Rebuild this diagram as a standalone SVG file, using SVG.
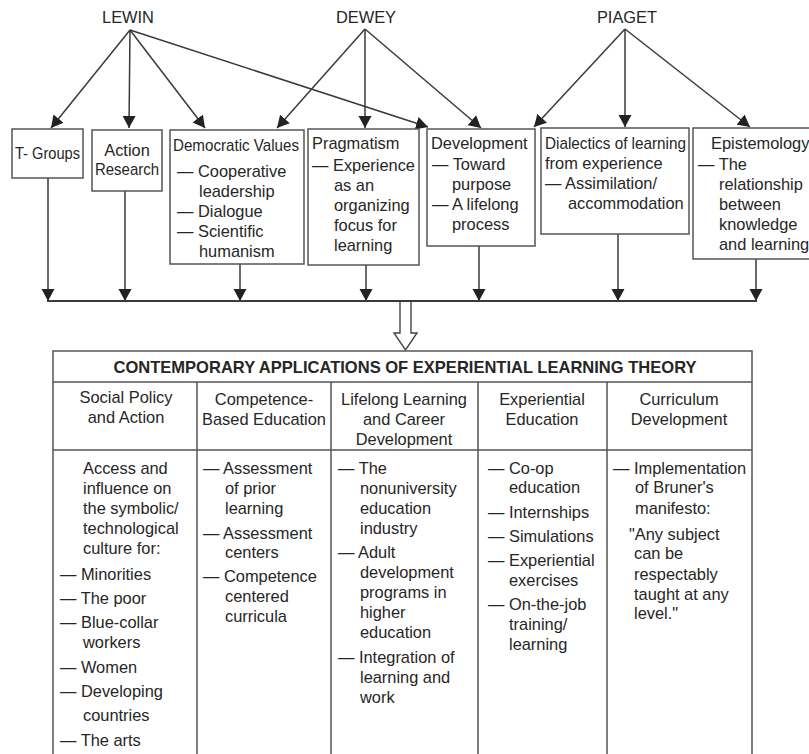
<svg xmlns="http://www.w3.org/2000/svg" width="809" height="754" viewBox="0 0 809 754">
<defs>
<marker id="ah" markerUnits="userSpaceOnUse" markerWidth="14" markerHeight="14" refX="12" refY="7" orient="auto" viewBox="0 0 14 14">
<path d="M0,0.5 L12,7 L0,13.5 z" fill="#222"/>
</marker>
<style>
text{font-family:"Liberation Sans",Arial,Helvetica,sans-serif;font-size:16.4px;fill:#262626}
.c{text-anchor:middle}
.b{font-weight:bold}
.box{fill:#fff;stroke:#555;stroke-width:1.5}
.ln{stroke:#3a3a3a;stroke-width:1.5;fill:none}
.ar{stroke:#3a3a3a;stroke-width:1.5;fill:none;marker-end:url(#ah)}
.t{fill:none;stroke:#555;stroke-width:1.5}
</style>
</defs>
<rect width="809" height="754" fill="#fff"/>

<g id="lewin"><text class="c" x="128" y="23">LEWIN</text></g>
<g id="dewey"><text class="c" x="366" y="23">DEWEY</text></g>
<g id="piaget"><text class="c" x="627" y="23">PIAGET</text></g>

<g id="connectors">
<line class="ar" x1="130" y1="30" x2="51" y2="128"/>
<line class="ar" x1="130" y1="30" x2="129" y2="128"/>
<line class="ar" x1="130" y1="30" x2="205" y2="128"/>
<line class="ar" x1="130" y1="30" x2="428" y2="127"/>
<line class="ar" x1="365" y1="29" x2="277" y2="128"/>
<line class="ar" x1="365" y1="29" x2="365" y2="128"/>
<line class="ar" x1="365" y1="29" x2="481" y2="128"/>
<line class="ar" x1="625" y1="29" x2="534" y2="127"/>
<line class="ar" x1="625" y1="29" x2="625" y2="127"/>
<line class="ar" x1="625" y1="29" x2="750" y2="127"/>
<line class="ar" x1="48" y1="178" x2="48" y2="301"/>
<line class="ar" x1="125" y1="191" x2="125" y2="301"/>
<line class="ar" x1="240" y1="264" x2="240" y2="301"/>
<line class="ar" x1="366" y1="265" x2="366" y2="301"/>
<line class="ar" x1="479" y1="246" x2="479" y2="301"/>
<line class="ar" x1="618" y1="234" x2="618" y2="301"/>
<line class="ar" x1="756" y1="259" x2="756" y2="301"/>
<line x1="47" y1="301" x2="757" y2="301" stroke="#3a3a3a" stroke-width="2"/>
<path d="M400,302 V333 H394 L405.5,350 L417,333 H411 V302" fill="#fff" stroke="#444" stroke-width="1.4"/>
</g>

<g id="tgroups">
<rect class="box" x="12" y="129" width="71" height="49"/>
<text class="c" x="47.5" y="159" font-size="15.5" textLength="65" lengthAdjust="spacingAndGlyphs">T- Groups</text>
</g>
<g id="action-research">
<rect class="box" x="92" y="130" width="70" height="61"/>
<text class="c" x="127" y="156" font-size="15.2">Action</text>
<text class="c" x="127" y="175" font-size="15.2" textLength="64" lengthAdjust="spacingAndGlyphs">Research</text>
</g>
<g id="democratic-values">
<rect class="box" x="170" y="130" width="134" height="134"/>
<text x="173" y="151" textLength="126" lengthAdjust="spacingAndGlyphs">Democratic Values</text>
<text x="177" y="177">— Cooperative</text>
<text x="199" y="197">leadership</text>
<text x="177" y="217">— Dialogue</text>
<text x="177" y="237">— Scientific</text>
<text x="199" y="257">humanism</text>
</g>
<g id="pragmatism">
<rect class="box" x="308" y="129" width="111" height="136"/>
<text x="312" y="149">Pragmatism</text>
<text x="312" y="171">— Experience</text>
<text x="334" y="191">as an</text>
<text x="334" y="211">organizing</text>
<text x="334" y="231">focus for</text>
<text x="334" y="251">learning</text>
</g>
<g id="development">
<rect class="box" x="427" y="129" width="108" height="117"/>
<text x="431" y="149">Development</text>
<text x="432" y="170">— Toward</text>
<text x="452" y="190">purpose</text>
<text x="432" y="210">— A lifelong</text>
<text x="452" y="230">process</text>
</g>
<g id="dialectics">
<rect class="box" x="541" y="128" width="148" height="106"/>
<text x="545" y="149" textLength="141" lengthAdjust="spacingAndGlyphs">Dialectics of learning</text>
<text x="545" y="169" font-size="15.5">from experience</text>
<text x="545" y="189">— Assimilation/</text>
<text x="568" y="209">accommodation</text>
</g>
<g id="epistemology">
<rect class="box" x="693" y="128" width="130" height="131"/>
<text x="711" y="149">Epistemology</text>
<text x="698" y="170">— The</text>
<text x="719" y="190">relationship</text>
<text x="719" y="210">between</text>
<text x="719" y="230">knowledge</text>
<text x="719" y="250">and learning</text>
</g>

<g id="applications-table">
<rect class="t" x="53" y="351" width="699" height="420"/>
<line class="t" x1="53" y1="382" x2="752" y2="382"/>
<line class="t" x1="53" y1="450" x2="752" y2="450"/>
<line class="t" x1="197" y1="382" x2="197" y2="760"/>
<line class="t" x1="331" y1="382" x2="331" y2="760"/>
<line class="t" x1="478" y1="382" x2="478" y2="760"/>
<line class="t" x1="607" y1="382" x2="607" y2="760"/>
<text class="c b" x="405" y="373" textLength="583" lengthAdjust="spacingAndGlyphs">CONTEMPORARY APPLICATIONS OF EXPERIENTIAL LEARNING THEORY</text>
</g>

<g id="social-policy">
<text class="c" x="126" y="403">Social Policy</text>
<text class="c" x="126" y="423">and Action</text>
<text x="83" y="474">Access and</text>
<text x="83" y="494">influence on</text>
<text x="83" y="514">the symbolic/</text>
<text x="83" y="534">technological</text>
<text x="83" y="554">culture for:</text>
<text x="60" y="580">— Minorities</text>
<text x="60" y="604">— The poor</text>
<text x="60" y="628">— Blue-collar</text>
<text x="83" y="648">workers</text>
<text x="60" y="673">— Women</text>
<text x="60" y="697">— Developing</text>
<text x="83" y="721">countries</text>
<text x="60" y="746">— The arts</text>
</g>
<g id="competence-based">
<text class="c" x="264" y="405">Competence-</text>
<text class="c" x="264" y="425">Based Education</text>
<text x="203" y="474">— Assessment</text>
<text x="225" y="494">of prior</text>
<text x="225" y="514">learning</text>
<text x="203" y="539">— Assessment</text>
<text x="225" y="558">centers</text>
<text x="203" y="582">— Competence</text>
<text x="225" y="602">centered</text>
<text x="225" y="622">curricula</text>
</g>
<g id="lifelong-learning">
<text class="c" x="404" y="405">Lifelong Learning</text>
<text class="c" x="404" y="425">and Career</text>
<text class="c" x="404" y="445">Development</text>
<text x="338" y="474">— The</text>
<text x="360" y="494">nonuniversity</text>
<text x="360" y="514">education</text>
<text x="360" y="534">industry</text>
<text x="338" y="558">— Adult</text>
<text x="360" y="578">development</text>
<text x="360" y="598">programs in</text>
<text x="360" y="618">higher</text>
<text x="360" y="638">education</text>
<text x="338" y="663">— Integration of</text>
<text x="360" y="683">learning and</text>
<text x="360" y="703">work</text>
</g>
<g id="experiential-education">
<text class="c" x="542" y="405">Experiential</text>
<text class="c" x="542" y="425">Education</text>
<text x="488" y="474">— Co-op</text>
<text x="509" y="493">education</text>
<text x="488" y="518">— Internships</text>
<text x="488" y="542">— Simulations</text>
<text x="488" y="566">— Experiential</text>
<text x="509" y="586">exercises</text>
<text x="488" y="610">— On-the-job</text>
<text x="509" y="630">training/</text>
<text x="509" y="650">learning</text>
</g>
<g id="curriculum-development">
<text class="c" x="679" y="405">Curriculum</text>
<text class="c" x="679" y="425">Development</text>
<text x="613" y="474">— Implementation</text>
<text x="635" y="493">of Bruner's</text>
<text x="635" y="514">manifesto:</text>
<text x="629" y="540">"Any subject</text>
<text x="634" y="559">can be</text>
<text x="634" y="580">respectably</text>
<text x="634" y="600">taught at any</text>
<text x="634" y="619">level."</text>
</g>
</svg>
